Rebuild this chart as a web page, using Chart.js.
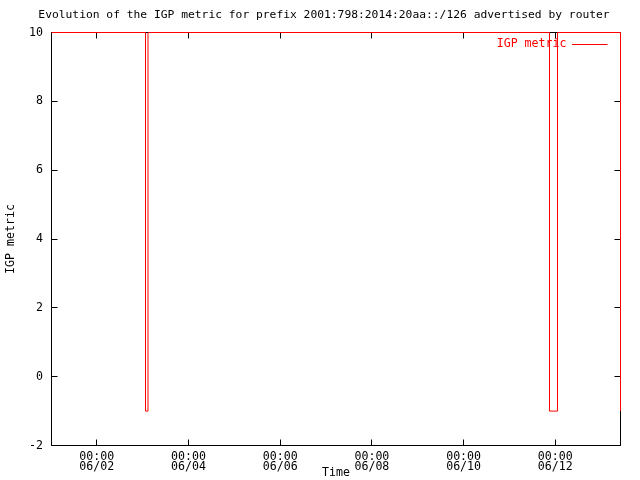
<!DOCTYPE html>
<html>
<head>
<meta charset="utf-8">
<script src="https://cdn.jsdelivr.net/npm/chart.js@4/dist/chart.umd.min.js"></script>
<style>
  html, body { margin: 0; padding: 0; background: #ffffff; }
  canvas { display: block; }
</style>
</head>
<body>
<canvas id="c" width="640" height="480"></canvas>
<script>
// ---- data (time in hours since 06/01 00:00) ----
const timeHours = [0.29, 49.49, 50.8, 260.97, 265.15, 298.13];
const igpMetric = [10, -1, 10, -1, 10, -1];
const xTickHours = [24, 72, 120, 168, 216, 264];
const xTickTimes = ['00:00', '00:00', '00:00', '00:00', '00:00', '00:00'];
const xTickDates = ['06/02', '06/04', '06/06', '06/08', '06/10', '06/12'];
const xMin = 0.29, xMax = 298.13;
const yMin = -2, yMax = 10, yStep = 2;
const seriesLabel = 'IGP metric';
const chartTitle = 'Evolution of the IGP metric for prefix 2001:798:2014:20aa::/126 advertised by router';
const xTitle = 'Time';
const yTitle = 'IGP metric';

const FONT = '"DejaVu Sans Mono", "Liberation Mono", monospace';
const FS = 11.6;

const points = timeHours.map((t, i) => ({ x: t, y: igpMetric[i] }));

const framePlugin = {
  id: 'frame',
  beforeDatasetsDraw(chart) {
    const { ctx, chartArea: a, scales } = chart;
    ctx.save();
    ctx.strokeStyle = '#000';
    ctx.lineWidth = 1;
    ctx.strokeRect(a.left, a.top, a.right - a.left, a.bottom - a.top);
    ctx.beginPath();
    scales.x.ticks.forEach(t => {
      const px = Math.round(scales.x.getPixelForValue(t.value) - 0.5) + 0.5;
      ctx.moveTo(px, a.bottom); ctx.lineTo(px, a.bottom - 6);
      ctx.moveTo(px, a.top); ctx.lineTo(px, a.top + 6);
    });
    scales.y.ticks.forEach(t => {
      const py = Math.round(scales.y.getPixelForValue(t.value) - 0.5) + 0.5;
      ctx.moveTo(a.left, py); ctx.lineTo(a.left + 6, py);
      ctx.moveTo(a.right, py); ctx.lineTo(a.right - 6, py);
    });
    ctx.stroke();
    ctx.restore();
  },
  afterDatasetsDraw(chart) {
    const { ctx, chartArea: a } = chart;
    const ds = chart.data.datasets[0];
    ctx.save();
    ctx.font = FS + 'px ' + FONT;
    ctx.fillStyle = ds.borderColor;
    ctx.textAlign = 'right';
    ctx.textBaseline = 'middle';
    const y = a.top + 11;
    ctx.fillText(ds.label, a.right - 54, y);
    ctx.strokeStyle = ds.borderColor;
    ctx.lineWidth = 1;
    ctx.beginPath();
    ctx.moveTo(a.right - 48.5, Math.round(y) + 0.5);
    ctx.lineTo(a.right - 13, Math.round(y) + 0.5);
    ctx.stroke();
    ctx.restore();
  }
};

new Chart(document.getElementById('c'), {
  type: 'line',
  data: {
    datasets: [{
      label: seriesLabel,
      data: points,
      borderColor: '#ff0000',
      borderWidth: 1,
      stepped: true,
      pointRadius: 0,
      fill: false,
      tension: 0,
      clip: 2
    }]
  },
  options: {
    responsive: false,
    animation: false,
    layout: { padding: { left: 8, right: 0, top: 0, bottom: 0 } },
    plugins: {
      legend: { display: false },
      tooltip: { enabled: false },
      title: {
        display: true,
        text: chartTitle,
        color: '#000',
        font: { family: FONT, size: 11.3, weight: 'normal', lineHeight: 13.92 / 11.3 },
        padding: { top: 8.5, bottom: 10.08 }
      }
    },
    scales: {
      x: {
        type: 'linear',
        min: xMin,
        max: xMax,
        grid: { display: false, drawTicks: false },
        border: { display: false },
        afterBuildTicks(scale) {
          scale.ticks = xTickHours.map(v => ({ value: v }));
        },
        afterFit(scale) { scale.height = 34.5; },
        ticks: {
          autoSkip: false,
          maxRotation: 0,
          padding: 6,
          color: '#000',
          font: { family: FONT, size: FS, lineHeight: 10 / FS },
          callback(value) {
            const i = xTickHours.indexOf(value);
            return i >= 0 ? [xTickTimes[i], xTickDates[i]] : '';
          }
        },
        title: {
          display: true,
          text: xTitle,
          color: '#000',
          font: { family: FONT, size: FS, lineHeight: 1.2 },
          padding: { top: 0, bottom: 0 }
        }
      },
      y: {
        type: 'linear',
        min: yMin,
        max: yMax,
        grid: { display: false, drawTicks: false },
        border: { display: false },
        afterFit(scale) { scale.width = 43.5; },
        ticks: {
          stepSize: yStep,
          padding: 8.5,
          color: '#000',
          font: { family: FONT, size: FS }
        },
        title: {
          display: true,
          text: yTitle,
          color: '#000',
          font: { family: FONT, size: FS, lineHeight: 0.6 },
          padding: { top: 0, bottom: 0 }
        }
      },
      yRightSpace: {
        type: 'linear',
        position: 'right',
        min: yMin,
        max: yMax,
        grid: { display: false, drawTicks: false },
        border: { display: false },
        ticks: { display: false },
        title: { display: false },
        afterFit(scale) { scale.width = 19.5; }
      }
    }
  },
  plugins: [framePlugin]
});
</script>
</body>
</html>
